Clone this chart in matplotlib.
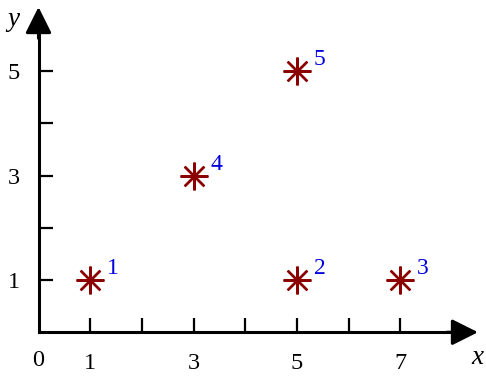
import matplotlib
matplotlib.use("Agg")
import matplotlib.pyplot as plt

# data
xs = [1, 5, 7, 3, 5]
ys = [1, 1, 1, 3, 5]
point_labels = ["1", "2", "3", "4", "5"]
xticks = [1, 2, 3, 4, 5, 6, 7]
xticklabels = ["1", "", "3", "", "5", "", "7"]
yticks = [1, 2, 3, 4, 5]
yticklabels = ["1", "", "3", "", "5"]

W, H, DPI = 4.86, 3.79, 100
fig = plt.figure(figsize=(W, H), dpi=DPI)
ax = fig.add_axes([0, 0, 1, 1])

x0px, ux = 38.5, 51.67
y0px, uy = 332.25, 52.25
ax.set_xlim(-x0px / ux, (486 - x0px) / ux)
ax.set_ylim(-(379 - y0px) / uy, y0px / uy)

serif = "Liberation Serif"
fs = 17.5

for s in ["top", "right"]:
    ax.spines[s].set_visible(False)
ax.spines["left"].set_position(("data", 0))
ax.spines["bottom"].set_position(("data", 0))
ax.spines["left"].set_linewidth(2.2)
ax.spines["bottom"].set_linewidth(2.2)
xtip = (478 - x0px) / ux
ytip = (y0px - 7) / uy
ax.spines["bottom"].set_bounds(0, xtip - 0.3)
ax.spines["left"].set_bounds(0, ytip - 0.3)

ax.set_xticks(xticks)
ax.set_xticklabels(xticklabels, fontfamily=serif, fontsize=fs)
ax.set_yticks(yticks)
ax.set_yticklabels(yticklabels, fontfamily=serif, fontsize=fs)
ax.tick_params(axis="both", direction="in", length=10, width=1.6)
ax.tick_params(axis="x", pad=15)
ax.tick_params(axis="y", pad=13.5)

arrow = dict(arrowstyle="-|>,head_length=0.4,head_width=0.2", mutation_scale=40,
             color="black", lw=2.2, shrinkA=0, shrinkB=0)
ax.annotate("", xy=(xtip, 0), xytext=(xtip - 0.6, 0), arrowprops=arrow)
ax.annotate("", xy=(0, ytip), xytext=(0, ytip - 0.6), arrowprops=arrow)

ax.text((38 - x0px) / ux, -(361 - y0px) / uy, "0", fontfamily=serif, fontsize=fs,
        ha="center", va="center")
ax.text((477 - x0px) / ux, -(357 - y0px) / uy, "x", fontfamily=serif, fontsize=fs + 2,
        style="italic", ha="center", va="center")
ax.text((13 - x0px) / ux, (y0px - 19) / uy, "y", fontfamily=serif, fontsize=fs + 2,
        style="italic", ha="center", va="center")

ax.plot(xs, ys, linestyle="none", marker=(8, 2, 0), markersize=20,
        markeredgewidth=1.7, color="#8B0000")
for x, y, lab in zip(xs, ys, point_labels):
    ax.annotate(lab, xy=(x, y), xytext=(16.5, 8.0), textcoords="offset points",
                ha="center", va="center", color="#0000DD", fontsize=17,
                fontfamily=serif)

fig.savefig("out.png", dpi=DPI)
